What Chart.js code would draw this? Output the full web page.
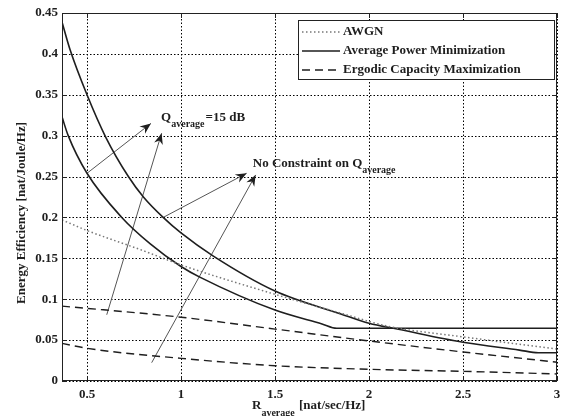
<!DOCTYPE html>
<html>
<head>
<meta charset="utf-8">
<script src="https://cdn.jsdelivr.net/npm/chart.js@4.4.1/dist/chart.umd.min.js"></script>
<style>
body { margin: 0; background: #fff; }
</style>
</head>
<body>
<canvas id="eeChart" width="568" height="416"></canvas>
<script>
// axis ticks
var xTickValues = [0.5, 1, 1.5, 2, 2.5, 3];
var yTickValues = [0, 0.05, 0.1, 0.15, 0.2, 0.25, 0.3, 0.35, 0.4, 0.45];

// AWGN reference
var awgnR  = [0.367, 0.5, 0.78, 1.0, 1.5, 1.85, 2.1, 2.5, 3.0];
var awgnEE = [0.197, 0.184, 0.161, 0.142, 0.106, 0.083, 0.067, 0.054, 0.039];

// average power minimization, no constraint on Q
var apmFreeR  = [0.367, 0.41, 0.5, 0.6, 0.72, 0.8, 0.905, 1.0, 1.17, 1.5, 1.85, 2.0, 2.15, 2.5, 2.8, 2.9, 3.0];
var apmFreeEE = [0.439, 0.405, 0.35, 0.298, 0.25, 0.225, 0.20, 0.181, 0.153, 0.110, 0.082, 0.0705, 0.0635, 0.0473, 0.0378, 0.0346, 0.0346];

// average power minimization, Q = 15 dB
var apmQ15R  = [0.367, 0.40, 0.5, 0.685, 0.835, 1.0, 1.1, 1.5, 1.75, 1.828, 3.0];
var apmQ15EE = [0.323, 0.30, 0.254, 0.20, 0.168, 0.140, 0.127, 0.0867, 0.0698, 0.0645, 0.0645];

// ergodic capacity maximization, Q = 15 dB
var ecmQ15R  = [0.367, 1.0, 1.5, 2.0, 2.5, 3.0];
var ecmQ15EE = [0.0916, 0.078, 0.0635, 0.049, 0.0355, 0.023];

// ergodic capacity maximization, no constraint on Q
var ecmFreeR  = [0.367, 0.5, 1.0, 1.5, 2.0, 2.5, 3.0];
var ecmFreeEE = [0.046, 0.040, 0.0277, 0.0187, 0.0143, 0.0118, 0.0086];

// annotation arrows [R, EE] start -> end
var arrowQ15a  = [[0.5, 0.254], [0.84, 0.315]];
var arrowQ15b  = [[0.605, 0.081], [0.897, 0.303]];
var arrowFreeA = [[0.905, 0.200], [1.349, 0.254]];
var arrowFreeB = [[0.844, 0.0224], [1.397, 0.252]];

var legendLabels = ['AWGN', 'Average Power Minimization', 'Ergodic Capacity Maximization'];

var SERIF = "'Liberation Serif', 'Times New Roman', serif";
var INK = '#1e1e1e';

function pts(xs, ys) {
    return xs.map(function(x, i){ return {x: x, y: ys[i]}; });
}
function arrowPts(a) {
    return a.map(function(p){ return {x: p[0], y: p[1]}; });
}

function curve(data, dash, color, width) {
    return {
        data: data,
        borderColor: color,
        borderWidth: width,
        borderDash: dash,
        pointRadius: 0,
        fill: false,
        cubicInterpolationMode: 'monotone'
    };
}
function arrowSet(a) {
    return {
        data: arrowPts(a),
        borderColor: '#555',
        borderWidth: 1,
        pointRadius: 0,
        fill: false,
        arrow: true
    };
}

function drawSub(ctx, main, sub, tail, x, y, size) {
    ctx.font = 'bold ' + size + 'px ' + SERIF;
    ctx.textAlign = 'left';
    ctx.textBaseline = 'middle';
    ctx.fillText(main, x, y);
    var w = ctx.measureText(main).width;
    ctx.font = 'bold ' + (size - 3) + 'px ' + SERIF;
    ctx.fillText(sub, x + w, y + 7);
    var ws = ctx.measureText(sub).width;
    if (tail) {
        ctx.font = 'bold ' + size + 'px ' + SERIF;
        ctx.fillText(tail, x + w + ws + 1, y);
    }
}

// dotted matlab style grid, under the curves
var dottedGrid = {
    id: 'dottedGrid',
    beforeDatasetsDraw: function(chart) {
        var ctx = chart.ctx, a = chart.chartArea;
        var xs = chart.scales.x, ys = chart.scales.y;
        ctx.save();
        ctx.strokeStyle = '#000';
        ctx.lineWidth = 1;
        ctx.setLineDash([1.5, 2]);
        ctx.beginPath();
        xTickValues.forEach(function(v){
            var px = Math.round(xs.getPixelForValue(v)) + 0.5;
            ctx.moveTo(px, a.bottom); ctx.lineTo(px, a.top);
        });
        yTickValues.forEach(function(v){
            var py = Math.round(ys.getPixelForValue(v)) + 0.5;
            ctx.moveTo(a.left, py); ctx.lineTo(a.right, py);
        });
        ctx.stroke();
        ctx.restore();
    }
};

var overlay = {
    id: 'overlay',
    afterDatasetsDraw: function(chart) {
        var ctx = chart.ctx, a = chart.chartArea;
        var xs = chart.scales.x, ys = chart.scales.y;
        ctx.save();

        // arrow heads
        chart.data.datasets.forEach(function(ds, i){
            if (!ds.arrow) return;
            var d = chart.getDatasetMeta(i).data;
            var p0 = d[0], p1 = d[1];
            var ang = Math.atan2(p1.y - p0.y, p1.x - p0.x);
            ctx.save();
            ctx.translate(p1.x, p1.y);
            ctx.rotate(ang);
            ctx.fillStyle = INK;
            ctx.beginPath();
            ctx.moveTo(0, 0);
            ctx.lineTo(-11, -4.5);
            ctx.lineTo(-7.5, 0);
            ctx.lineTo(-11, 4.5);
            ctx.closePath();
            ctx.fill();
            ctx.restore();
        });

        // frame and inward ticks
        ctx.strokeStyle = '#222';
        ctx.lineWidth = 1;
        ctx.strokeRect(a.left + 0.5, a.top + 0.5, a.right - a.left - 1, a.bottom - a.top - 1);
        ctx.beginPath();
        xTickValues.forEach(function(v){
            var px = Math.round(xs.getPixelForValue(v)) + 0.5;
            ctx.moveTo(px, a.bottom); ctx.lineTo(px, a.bottom - 5);
            ctx.moveTo(px, a.top); ctx.lineTo(px, a.top + 5);
        });
        yTickValues.forEach(function(v){
            var py = Math.round(ys.getPixelForValue(v)) + 0.5;
            ctx.moveTo(a.left, py); ctx.lineTo(a.left + 5, py);
            ctx.moveTo(a.right, py); ctx.lineTo(a.right - 5, py);
        });
        ctx.stroke();

        // annotation labels
        ctx.fillStyle = INK;
        drawSub(ctx, 'Q', 'average', '=15 dB', xs.getPixelForValue(0.894), ys.getPixelForValue(0.322), 13);
        drawSub(ctx, 'No Constraint on Q', 'average', '', xs.getPixelForValue(1.382), ys.getPixelForValue(0.266), 13);

        // legend box
        var lx = 298, ly = 20, lw = 256, lh = 59;
        ctx.fillStyle = '#fff';
        ctx.fillRect(lx, ly, lw, lh);
        ctx.strokeStyle = '#222';
        ctx.strokeRect(lx + 0.5, ly + 0.5, lw, lh);
        var styles = [
            {dash: [1.5, 2.5], color: '#777', width: 1.5},
            {dash: [], color: INK, width: 1.6},
            {dash: [8, 5], color: INK, width: 1.4}
        ];
        legendLabels.forEach(function(lbl, i){
            var yy = ly + 12 + i * 19;
            ctx.beginPath();
            ctx.setLineDash(styles[i].dash);
            ctx.strokeStyle = styles[i].color;
            ctx.lineWidth = styles[i].width;
            ctx.moveTo(lx + 4, yy);
            ctx.lineTo(lx + 42, yy);
            ctx.stroke();
            ctx.setLineDash([]);
            ctx.fillStyle = INK;
            ctx.font = 'bold 13px ' + SERIF;
            ctx.textAlign = 'left';
            ctx.textBaseline = 'middle';
            ctx.fillText(lbl, lx + 45, yy);
        });

        // axis titles
        ctx.fillStyle = INK;
        drawSub(ctx, 'R', 'average', '', 252, 406, 13);
        ctx.font = 'bold 13px ' + SERIF;
        ctx.fillText('[nat/sec/Hz]', 299, 406);

        ctx.save();
        ctx.translate(22, 213);
        ctx.rotate(-Math.PI / 2);
        ctx.textAlign = 'center';
        ctx.textBaseline = 'middle';
        ctx.font = 'bold 13px ' + SERIF;
        ctx.fillText('Energy Efficiency [nat/Joule/Hz]', 0, 0);
        ctx.restore();

        ctx.restore();
    }
};

var tickFont = { family: SERIF, size: 13, weight: 'bold' };

new Chart(document.getElementById('eeChart'), {
    type: 'line',
    data: {
        datasets: [
            curve(pts(awgnR, awgnEE), [1.5, 2.5], '#777', 1.5),
            curve(pts(apmFreeR, apmFreeEE), [], INK, 1.6),
            curve(pts(apmQ15R, apmQ15EE), [], INK, 1.6),
            curve(pts(ecmQ15R, ecmQ15EE), [8, 5], INK, 1.4),
            curve(pts(ecmFreeR, ecmFreeEE), [8, 5], INK, 1.4),
            arrowSet(arrowQ15a),
            arrowSet(arrowQ15b),
            arrowSet(arrowFreeA),
            arrowSet(arrowFreeB)
        ]
    },
    options: {
        responsive: false,
        animation: false,
        layout: { padding: { top: 13, right: 11, left: 0, bottom: 0 } },
        plugins: { legend: { display: false }, tooltip: { enabled: false } },
        scales: {
            x: {
                type: 'linear',
                min: 0.367,
                max: 3,
                afterBuildTicks: function(s){ s.ticks = xTickValues.map(function(v){ return {value: v}; }); },
                afterFit: function(s){ s.height = 35; },
                grid: { display: false, drawTicks: false },
                border: { display: false },
                ticks: { font: tickFont, color: INK, padding: 6, maxRotation: 0,
                         callback: function(v){ return String(v); } }
            },
            y: {
                min: 0,
                max: 0.45,
                afterBuildTicks: function(s){ s.ticks = yTickValues.map(function(v){ return {value: v}; }); },
                afterFit: function(s){ s.width = 62; },
                grid: { display: false, drawTicks: false },
                border: { display: false },
                ticks: { font: tickFont, color: INK, padding: 4,
                         callback: function(v){ return String(+v.toFixed(2)); } }
            }
        }
    },
    plugins: [dottedGrid, overlay]
});
</script>
</body>
</html>
